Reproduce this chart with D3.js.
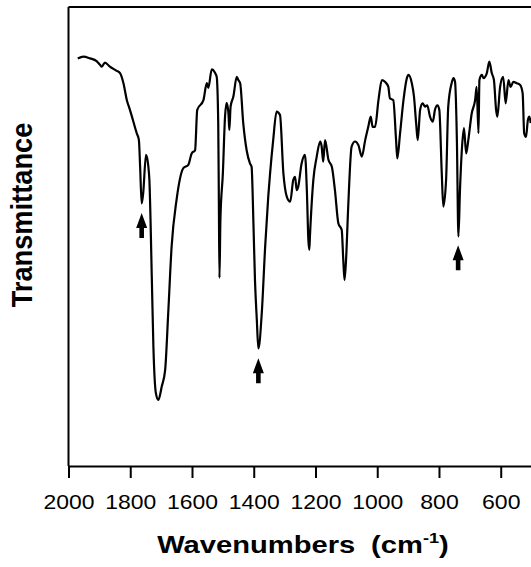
<!DOCTYPE html>
<html>
<head>
<meta charset="utf-8">
<script src="https://cdn.jsdelivr.net/npm/d3@7"></script>
<style>
  html, body { margin: 0; padding: 0; background: #fff; }
  svg { display: block; }
  text { font-family: "Liberation Sans", Arial, Helvetica, sans-serif; fill: #000; }
</style>
</head>
<body>
<svg id="chart" width="531" height="567"></svg>
<script>
// ---- Data ----
const wavenumbers = [1970,1952,1930,1909,1898,1892,1882,1866,1844,1833,1822,1811,1801,1779,1772,1768,1763,1758,1749,1742,1738,1730,1725,1717,1709,1698,1687,1677,1666,1650,1628,1612,1601,1590,1583,1563,1552,1547,1536,1525,1520,1515,1513,1511,1508,1500,1493,1488,1482,1479,1475,1466,1455,1450,1444,1434,1423,1412,1407,1401,1396,1390,1385,1374,1363,1353,1347,1337,1326,1315,1304,1293,1282,1272,1266,1261,1256,1245,1234,1228,1223,1220,1218,1207,1196,1185,1180,1175,1169,1158,1147,1137,1126,1115,1110,1106,1101,1094,1083,1072,1061,1050,1039,1029,1021,1015,1007,996,985,975,964,959,948,939,935,926,915,904,899,888,881,874,869,861,853,845,838,829,820,813,805,799,791,786,777,770,759,753,748,742,737,732,726,719,712,705,694,683,678,672,669,661,656,645,637,629,622,615,611,602,592,584,575,568,559,548,537,529,524,518,512,507,503];
const transmittance = [88.8,89.2,88.8,88.2,87.4,87.0,87.9,87.0,86.1,85.6,83.4,79.7,77.6,72.5,71.0,65.2,57.2,59.5,67.8,65.6,62.3,40.5,26.0,15.9,14.4,17.3,20.9,33.3,47.8,58.0,64.9,65.6,68.1,68.8,77.6,79.7,83.4,82.4,86.4,85.6,84.8,74.7,58.0,41.0,53.6,63.8,76.1,79.1,76.9,73.2,78.3,80.5,84.8,84.1,83.4,74.7,68.8,65.9,65.2,52.9,40.5,31.8,25.6,33.3,47.8,58.7,63.8,71.0,77.2,76.5,63.8,58.7,57.6,62.3,63.0,60.1,60.8,65.9,67.8,60.1,49.2,47.1,50.0,62.3,67.4,70.7,69.6,66.3,71.0,66.7,65.2,60.1,52.9,51.4,44.9,40.5,44.9,56.5,69.6,70.7,69.9,67.4,71.0,73.9,76.1,73.9,73.9,79.7,84.1,83.7,82.6,80.1,79.7,71.0,67.0,72.5,79.7,84.5,85.2,83.4,80.5,74.7,71.0,77.6,79.0,78.3,78.6,76.1,75.0,77.6,78.6,77.6,63.8,56.5,62.3,78.3,83.4,84.5,83.7,71.0,50.0,60.1,68.8,73.6,68.1,71.0,76.8,79.7,82.6,72.5,84.1,85.2,84.5,85.6,88.1,85.6,84.1,77.6,76.1,82.6,84.8,79.0,84.1,82.6,83.7,83.4,83.0,81.2,72.5,71.7,75.4,76.1,74.7];
const xTicks = [2000, 1800, 1600, 1400, 1200, 1000, 800, 600];
const arrowWavenumbers = [1763, 1385, 738];
const arrowTipTransmittance = [55.1, 23.5, 48.1];

const xTitle = "Wavenumbers";
const xUnit = "(cm";
const xUnitSup = "-1";
const yTitle = "Transmittance";

// ---- Layout ----
const svg = d3.select("#chart");
const plotLeft = 68.5, plotRight = 531.6, plotTop = 7, plotBottom = 466;

const x = d3.scaleLinear().domain([2000, 500]).range([plotLeft, plotRight]);
const y = d3.scaleLinear().domain([0, 100]).range([plotBottom, plotTop]);

// Frame: left and top lines
svg.append("line").attr("x1", plotLeft).attr("x2", plotLeft).attr("y1", plotTop).attr("y2", plotBottom)
  .attr("stroke", "#000").attr("stroke-width", 2);
svg.append("line").attr("x1", plotLeft).attr("x2", 531).attr("y1", plotTop).attr("y2", plotTop)
  .attr("stroke", "#000").attr("stroke-width", 2);

// Bottom axis
const axis = d3.axisBottom(x).tickValues(xTicks).tickSize(12).tickSizeOuter(0).tickFormat(d3.format("d"));
const gx = svg.append("g").attr("transform", `translate(0,${plotBottom})`).call(axis);
gx.select(".domain").attr("stroke", "#000").attr("stroke-width", 2);
gx.selectAll(".tick line").attr("stroke", "#000").attr("stroke-width", 2);
gx.selectAll(".tick text")
  .attr("y", 43).attr("dy", 0)
  .attr("font-size", 20.5)
  .attr("font-family", "Liberation Sans, Arial, sans-serif")
  .attr("fill", "#000")
  .attr("lengthAdjust", "spacingAndGlyphs")
  .attr("textLength", d => String(d).length === 4 ? 51 : 38.5);

// Spectrum line
const pts = wavenumbers.map((w, i) => [w, transmittance[i]]);
const line = d3.line().x(d => x(d[0])).y(d => y(d[1])).curve(d3.curveMonotoneX);
svg.append("path").datum(pts)
  .attr("d", line)
  .attr("fill", "none")
  .attr("stroke", "#000")
  .attr("stroke-width", 2.2)
  .attr("stroke-linejoin", "round");

// Arrows (point up at band minima)
const headLen = 15, headHalf = 5.5, shaftHalf = 2.3, arrowLen = 25;
arrowWavenumbers.forEach((w, i) => {
  const cx = x(w), ty = y(arrowTipTransmittance[i]);
  const p = d3.path();
  p.moveTo(cx, ty);
  p.lineTo(cx + headHalf, ty + headLen);
  p.lineTo(cx + shaftHalf, ty + headLen);
  p.lineTo(cx + shaftHalf, ty + arrowLen);
  p.lineTo(cx - shaftHalf, ty + arrowLen);
  p.lineTo(cx - shaftHalf, ty + headLen);
  p.lineTo(cx - headHalf, ty + headLen);
  p.closePath();
  svg.append("path").attr("d", p.toString()).attr("fill", "#000");
});

// X axis title
const xt = svg.append("text")
  .attr("transform", "translate(303,553) scale(1.215,1)")
  .attr("text-anchor", "middle")
  .attr("font-size", 24)
  .attr("font-weight", "bold");
xt.append("tspan").text(xTitle);
xt.append("tspan").attr("dx", 13).text(xUnit);
xt.append("tspan").attr("font-size", 15).attr("dy", -10).text(xUnitSup);
xt.append("tspan").attr("dy", 10).text(")");

// Y axis title
svg.append("text")
  .attr("transform", "translate(32,215) rotate(-90) scale(1.09,1.15)")
  .attr("text-anchor", "middle")
  .attr("font-size", 25)
  .attr("font-weight", "bold")
  .text(yTitle);
</script>
</body>
</html>
